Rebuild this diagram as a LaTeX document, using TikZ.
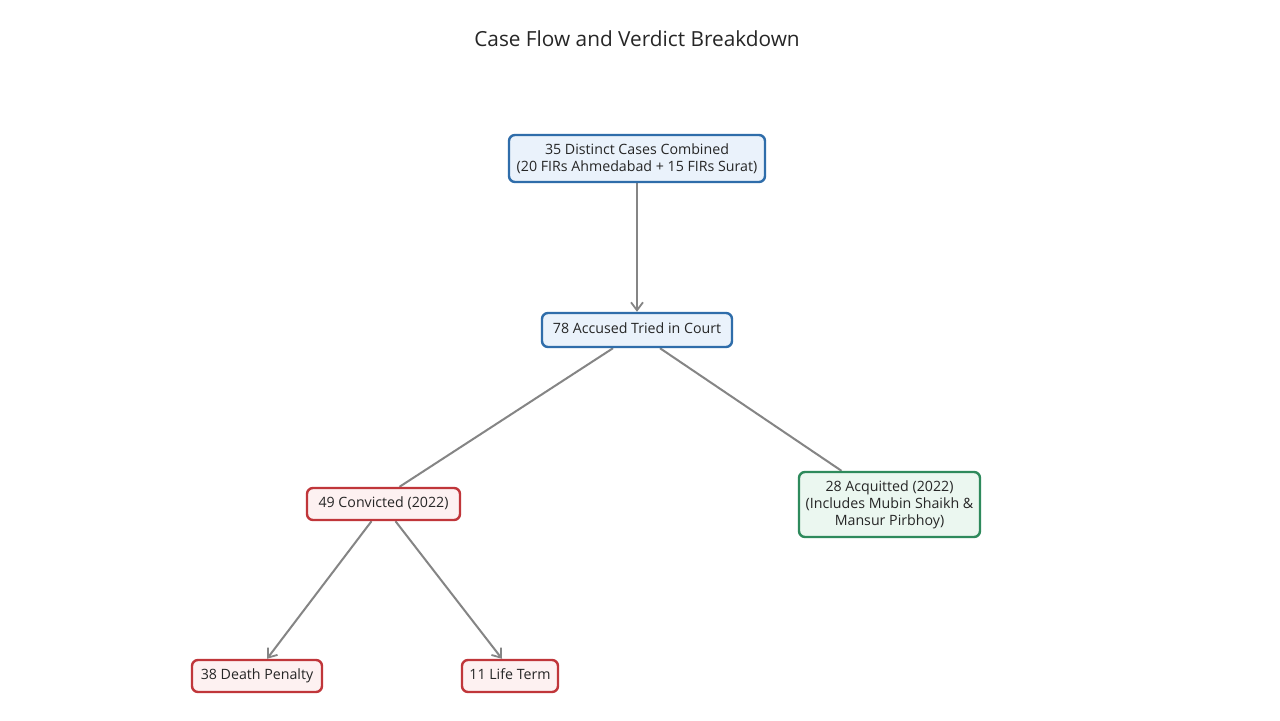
\documentclass[tikz,border=0pt]{standalone}
\usepackage{fontspec}
\setmainfont{Open Sans}
\usetikzlibrary{arrows.meta,backgrounds}
\definecolor{edgegray}{HTML}{858585}
\definecolor{blueb}{HTML}{2F6DAA}
\definecolor{bluef}{HTML}{EAF2FB}
\definecolor{redb}{HTML}{C0363A}
\definecolor{redf}{HTML}{FDF1F1}
\definecolor{greenb}{HTML}{2E8A5C}
\definecolor{greenf}{HTML}{EBF7F0}
\tikzset{
  box/.style={draw, line width=1.2pt, rounded corners=3pt, align=center,
    inner sep=0pt, font=\fontsize{7.1}{8.5}\selectfont, text=black!85},
  oneline/.style={text height=5.4pt, text depth=1.6pt},
  bluebox/.style={box, draw=blueb, fill=bluef},
  redbox/.style={box, draw=redb, fill=redf},
  greenbox/.style={box, draw=greenb, fill=greenf},
  conn/.style={draw=edgegray, line width=1pt},
  arr/.style={conn, -{Straight Barb[length=4pt,width=6pt,line width=0.9pt]}},
}
\begin{document}
\begin{tikzpicture}[x=0.5pt,y=-0.5pt]
\useasboundingbox (0,0) rectangle (1280,720);
\node[font=\fontsize{10.4}{12}\selectfont, text=black!85] (title) at (637,39) {Case Flow and Verdict Breakdown};
\node[bluebox, minimum width=128pt, minimum height=23.5pt] (A) at (637,158.5) {35 Distinct Cases Combined\\(20 FIRs Ahmedabad + 15 FIRs Surat)};
\node[bluebox, oneline, minimum width=95pt, minimum height=17pt] (B) at (637,330) {78 Accused Tried in Court};
\node[redbox, oneline, minimum width=76.5pt, minimum height=16pt] (C) at (383.5,504) {49 Convicted (2022)};
\node[greenbox, minimum width=90.5pt, minimum height=32.5pt] (D) at (889.5,504.5) {28 Acquitted (2022)\\(Includes Mubin Shaikh \&\\Mansur Pirbhoy)};
\node[redbox, oneline, minimum width=65pt, minimum height=16pt] (E) at (257,676) {38 Death Penalty};
\node[redbox, oneline, minimum width=48pt, minimum height=16pt] (F) at (510,676) {11 Life Term};
\begin{scope}[on background layer]
\fill[white] (0,0) rectangle (1280,720);
\draw[arr] (A.south) -- (B.north);
\draw[conn] ([xshift=-12pt]B.south) -- ([xshift=8pt]C.north);
\draw[conn] ([xshift=11.5pt]B.south) -- ([xshift=-24pt]D.north);
\draw[arr] ([xshift=-6pt]C.south) -- ([xshift=5pt]E.north);
\draw[arr] ([xshift=6pt]C.south) -- ([xshift=-4pt]F.north);
\end{scope}
\end{tikzpicture}
\end{document}
